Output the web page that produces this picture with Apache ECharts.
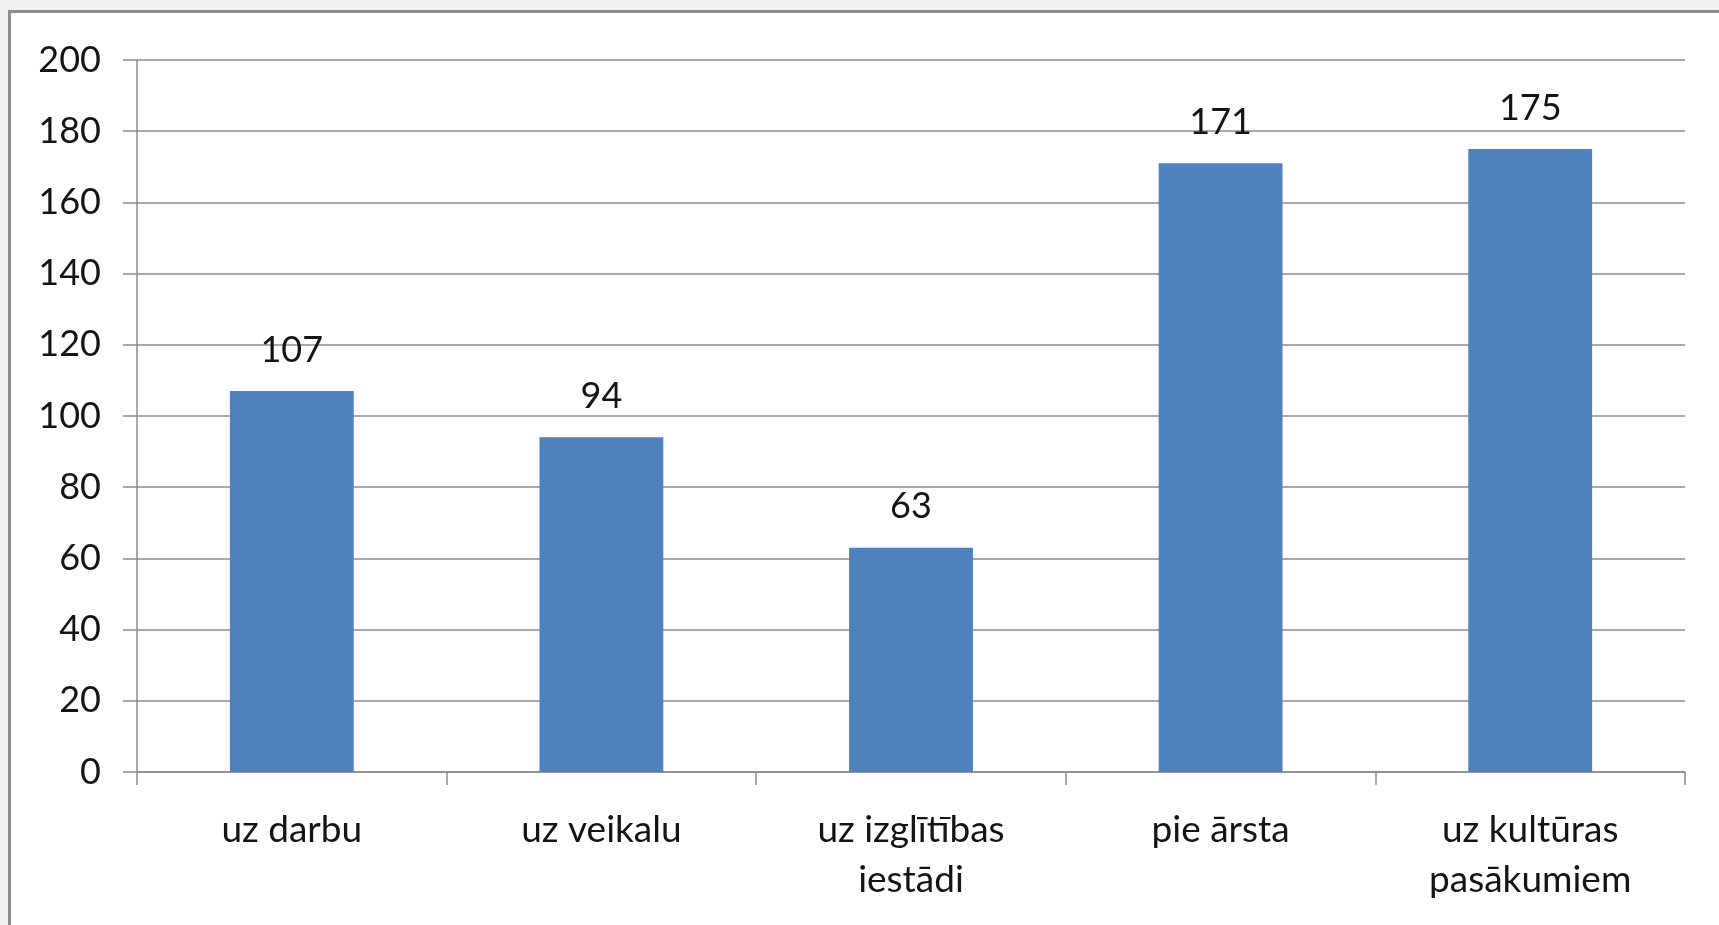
<!DOCTYPE html>
<html>
<head>
<meta charset="utf-8">
<script src="https://cdn.jsdelivr.net/npm/echarts@6/dist/echarts.min.js"></script>
<style>
  html, body { margin: 0; padding: 0; width: 1719px; height: 925px; overflow: hidden; background: #efefef; }
  #frame { position: absolute; left: 8px; top: 10px; width: 1800px; height: 1000px; background: #ffffff;
           border-left: 3px solid #8c8c8c; border-top: 3px solid #8c8c8c; }
  #chart { position: absolute; left: 0; top: 0; width: 1719px; height: 925px; }
</style>
</head>
<body>
<div id="frame"></div>
<div id="chart"></div>
<script>
const categories = ["uz darbu", "uz veikalu", "uz izglītības\niestādi", "pie ārsta", "uz kultūras\npasākumiem"];
const values = [107, 94, 63, 171, 175];
const yTicks = { min: 0, max: 200, interval: 20 };

const chart = echarts.init(document.getElementById('chart'), null, { renderer: 'canvas' });
const font = 'Lato, "Open Sans", "Noto Sans", sans-serif';
const textColor = '#141414';
const lineColor = '#8c8c8c';

chart.setOption({
  backgroundColor: 'transparent',
  animation: false,
  grid: { left: 137, top: 60, right: 34, bottom: 153, containLabel: false },
  xAxis: {
    type: 'category',
    data: categories,
    axisLine: { show: true, lineStyle: { color: lineColor, width: 1.5 } },
    axisTick: { show: true, length: 13, lineStyle: { color: lineColor, width: 1.5 } },
    axisLabel: { color: textColor, fontFamily: font, fontSize: 37, lineHeight: 50, margin: 33, interval: 0 }
  },
  yAxis: {
    type: 'value',
    min: yTicks.min, max: yTicks.max, interval: yTicks.interval,
    axisLine: { show: true, lineStyle: { color: lineColor, width: 1.5 } },
    axisTick: { show: true, length: 14, lineStyle: { color: lineColor, width: 1.5 } },
    splitLine: { show: true, lineStyle: { color: lineColor, width: 1.5 } },
    axisLabel: { color: textColor, fontFamily: font, fontSize: 36, margin: 36 }
  },
  series: [{
    type: 'bar',
    data: values,
    barWidth: '40%',
    itemStyle: { color: '#4f81bd' },
    label: { show: true, position: 'top', distance: 23, color: textColor, fontFamily: font, fontSize: 36 }
  }]
});
</script>
</body>
</html>
